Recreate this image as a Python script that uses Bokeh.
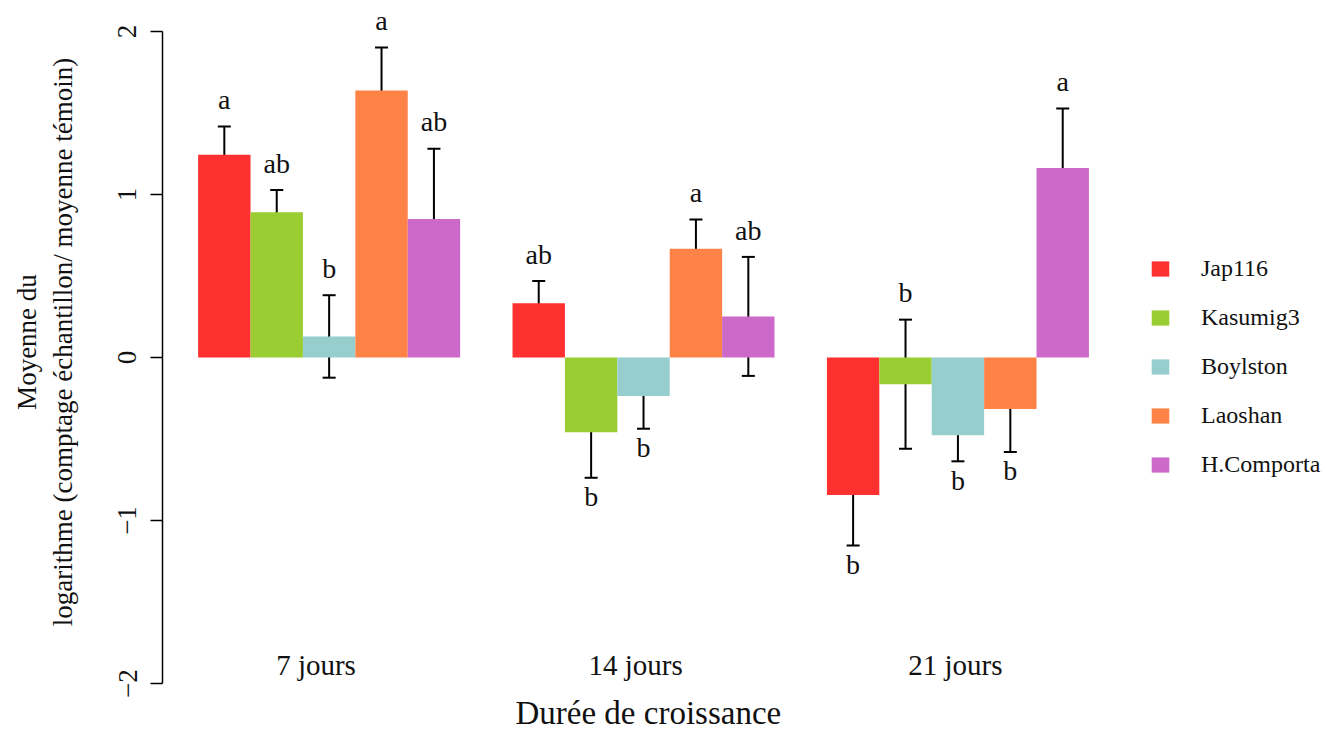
import numpy as np
from bokeh.plotting import figure
from bokeh.models import (ColumnDataSource, Range1d, FixedTicker, Whisker,
                          TeeHead, Legend, LegendItem, Title)
from bokeh.core.properties import value
from bokeh.embed import file_html
from bokeh.resources import INLINE

# ---------------- data ----------------
durations = ["7 jours", "14 jours", "21 jours"]
strains = ["Jap116", "Kasumig3", "Boylston", "Laoshan", "H.Comporta"]
colors = ["#FF3030", "#9ACD32", "#96CDCD", "#FF8247", "#CD69C9"]

# mean log ratio per strain, one list per duration
mean_7 = [1.243, 0.891, 0.129, 1.638, 0.849]
mean_14 = [0.333, -0.458, -0.237, 0.667, 0.252]
mean_21 = [-0.844, -0.164, -0.477, -0.316, 1.163]
# standard errors
se_7 = [0.174, 0.136, 0.253, 0.263, 0.432]
se_14 = [0.136, 0.280, 0.200, 0.180, 0.365]
se_21 = [0.310, 0.396, 0.160, 0.264, 0.364]
# significance letters
let_7 = ["a", "ab", "b", "a", "ab"]
let_14 = ["ab", "b", "b", "a", "ab"]
let_21 = ["b", "b", "b", "b", "a"]

means = [mean_7, mean_14, mean_21]
ses = [se_7, se_14, se_21]
letters = [let_7, let_14, let_21]

y_ticks = [-2, -1, 0, 1, 2]
y_title = "Moyenne du\nlogarithme (comptage échantillon/ moyenne témoin)"
x_title = "Durée de croissance"

# ---------------- layout helpers (barplot style: space = c(0, 1)) ----------------
n_s = len(strains)
def bar_center(g, s):
    return 1 + g * (n_s + 1) + s + 0.5

FONT = "Liberation Serif"
TXT = "#111111"

p = figure(width=1326, height=740,
           x_range=Range1d(0.32, 22.534), y_range=Range1d(-2.0, 2.18989),
           output_backend="svg", toolbar_location=None,
           x_axis_location=None,
           min_border_left=162, min_border_right=0,
           min_border_top=0, min_border_bottom=56)
p.outline_line_color = None
p.xgrid.visible = False
p.ygrid.visible = False

renderers = []
for s, name in enumerate(strains):
    xs = [bar_center(g, s) for g in range(len(durations))]
    tops = [means[g][s] for g in range(len(durations))]
    src = ColumnDataSource(dict(x=xs, top=tops))
    r = p.vbar(x="x", width=1.0, top="top", bottom=0, source=src,
               fill_color=colors[s], line_color=None)
    renderers.append(r)

# error bars & letters
ex, eup, elo, lx, ly, lt = [], [], [], [], [], []
for g in range(len(durations)):
    for s in range(n_s):
        m, e = means[g][s], ses[g][s]
        x = bar_center(g, s)
        ex.append(x); eup.append(m + e); elo.append(m - e)
        lx.append(x); lt.append(letters[g][s])
        if m + e > 0:
            ly.append(m + e + 0.165)
        else:
            ly.append(m - e - 0.115)

esrc = ColumnDataSource(dict(base=ex, upper=eup, lower=elo))
w = Whisker(base="base", upper="upper", lower="lower", source=esrc,
            line_color="black", line_width=2,
            upper_head=TeeHead(size=13, line_width=2, line_color="black"),
            lower_head=TeeHead(size=13, line_width=2, line_color="black"))
p.add_layout(w)

p.text(x=lx, y=ly, text=lt, text_font=value(FONT), text_font_size="28px",
       text_align="center", text_baseline="alphabetic", text_color=TXT)

# category labels under the groups
cat_x = [bar_center(g, 2) - 0.25 + 0.1 * g for g in range(len(durations))]
p.text(x=cat_x, y=[-1.886] * len(durations), text=durations,
       text_font=value(FONT), text_font_size="29px",
       text_align="center", text_baseline="alphabetic", text_color=TXT)

# x title, below the plot area
p.add_layout(Title(text=x_title, align="left", offset=353, text_font=FONT,
                   text_font_size="33px", text_font_style="normal",
                   text_color=TXT, standoff=19), "below")

# y axis
ax = p.yaxis[0]
ax.ticker = FixedTicker(ticks=y_ticks)
ax.bounds = (-2, 2)
ax.major_label_orientation = "vertical"
ax.major_label_text_font = FONT
ax.major_label_text_font_size = "27px"
ax.major_label_text_color = TXT
ax.major_label_standoff = 14
ax.major_tick_out = 12
ax.major_tick_in = 0
ax.minor_tick_line_color = None
ax.axis_line_width = 1.5
ax.major_tick_line_width = 1.5
ax.axis_label = y_title
ax.axis_label_text_font = FONT
ax.axis_label_text_font_style = "normal"
ax.axis_label_text_font_size = "27px"
ax.axis_label_text_color = TXT
ax.axis_label_standoff = 38

legend = Legend(items=[LegendItem(label=n, renderers=[r]) for n, r in zip(strains, renderers)],
                location=(987, 205), glyph_width=22, glyph_height=19,
                label_text_font=FONT, label_text_font_size="24px",
                label_text_color=TXT,
                spacing=22, padding=0, margin=0, label_standoff=30,
                border_line_color=None, background_fill_alpha=0)
p.add_layout(legend)

open("out.html", "w").write(file_html(p, INLINE))
